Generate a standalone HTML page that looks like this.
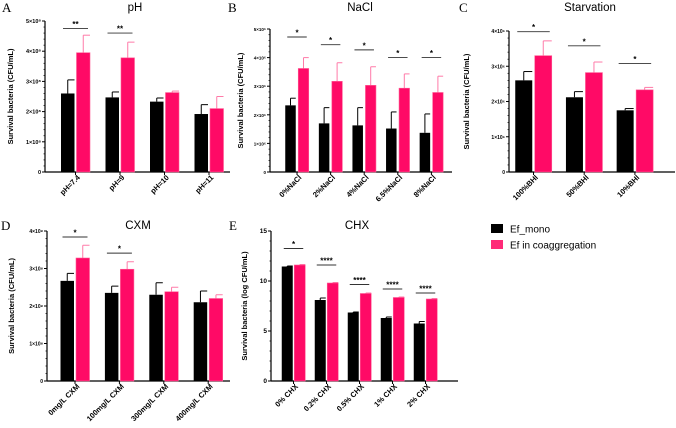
<!DOCTYPE html>
<html><head><meta charset="utf-8"><style>
html,body{margin:0;padding:0;background:#fff;width:676px;height:428px;overflow:hidden}
svg{display:block;font-family:"Liberation Sans",sans-serif}
</style></head><body>
<svg id="fig" width="676" height="428" viewBox="0 0 676 428"></svg>
<script>
// Panel A: pH
const catsA = ["pH=7.4","pH=9","pH=10","pH=11"];
const monoA = [2.6,2.47,2.33,1.92];
const monoErrA = [3.05,2.65,2.45,2.23];
const coA = [3.95,3.78,2.63,2.1];
const coErrA = [4.53,4.3,2.68,2.5];
const sigA = ["**","**","",""];
const sigYA = [4.75,4.6,0,0];
const ticksA = ["0","1×10⁸","2×10⁸","3×10⁸","4×10⁸","5×10⁸"];
// Panel B: NaCl
const catsB = ["0%NaCl","2%NaCl","4%NaCl","6.5%NaCl","8%NaCl"];
const monoB = [2.33,1.7,1.63,1.52,1.37];
const monoErrB = [2.58,2.25,2.25,2.1,2.03];
const coB = [3.62,3.17,3.03,2.93,2.78];
const coErrB = [4.0,3.82,3.68,3.43,3.35];
const sigB = ["*","*","*","*","*"];
const sigYB = [4.72,4.45,4.27,4.0,4.0];
const ticksB = ["0","1×10⁶","2×10⁶","3×10⁶","4×10⁶","5×10⁶"];
// Panel C: Starvation
const catsC = ["100%BHI","50%BHI","10%BHI"];
const monoC = [2.6,2.12,1.75];
const monoErrC = [2.85,2.28,1.8];
const coC = [3.3,2.82,2.33];
const coErrC = [3.72,3.12,2.4];
const sigC = ["*","*","*"];
const sigYC = [3.98,3.58,3.08];
const ticksC = ["0","1×10⁶","2×10⁶","3×10⁶","4×10⁶"];
// Panel D: CXM
const catsD = ["0mg/L CXM","100mg/L CXM","300mg/L CXM","400mg/L CXM"];
const monoD = [2.67,2.35,2.3,2.1];
const monoErrD = [2.87,2.53,2.62,2.4];
const coD = [3.28,2.98,2.38,2.2];
const coErrD = [3.62,3.18,2.5,2.3];
const sigD = ["*","*","",""];
const sigYD = [3.84,3.41,0,0];
const ticksD = ["0","1×10⁸","2×10⁸","3×10⁸","4×10⁸"];
// Panel E: CHX
const catsE = ["0% CHX","0.2% CHX","0.5% CHX","1% CHX","2% CHX"];
const monoE = [11.45,8.1,6.85,6.3,5.75];
const monoErrE = [11.5,8.3,6.9,6.4,5.95];
const coE = [11.6,9.8,8.75,8.35,8.2];
const coErrE = [11.65,9.85,8.8,8.4,8.25];
const sigE = ["*","****","****","****","****"];
const sigYE = [13.25,11.6,9.65,9.2,8.8];
const ticksE = ["0","5","10","15"];
const tickValsE = [0,5,10,15];

const NS="http://www.w3.org/2000/svg";
const svg=document.getElementById('fig');
const PINK="#ff0a66", PINKERR="#ff7aa8";
function mk(tag,attrs,parent){const e=document.createElementNS(NS,tag);for(const k in attrs)e.setAttribute(k,attrs[k]);(parent||svg).appendChild(e);return e;}

function panel(o){
  const g=mk('g',{});
  
  
  const y=v=>o.y0-(v/o.ymax)*(o.y0-o.ytop);
  const cx=i=>o.x1+o.spacing*i;
  // axes
  const ya=mk('line',{x1:o.ax,y1:o.ytop,x2:o.ax,y2:o.y0,stroke:'#000','stroke-width':1.2},g);
  
  
  const xa=mk('line',{x1:o.ax,y1:o.y0,x2:o.axEnd,y2:o.y0,stroke:'#000','stroke-width':1.2},g);
  
  
  // ticks
  o.ticks.forEach((t,i)=>{
    const v=o.tickVals?o.tickVals[i]:i;
    const ty=y(v);
    mk('line',{x1:o.ax-3,y1:ty,x2:o.ax,y2:ty,stroke:'#000','stroke-width':1},g);
    const tl=mk('text',{x:o.ax-4,y:ty+2,'font-size':o.tfs||5.5,'text-anchor':'end','font-weight':'bold'},g);
    tl.textContent=t;
    
    
    if(i<o.ticks.length-1){
      const nv=o.tickVals?o.tickVals[i+1]:i+1;
      for(let k=1;k<5;k++){const my=y(v+(nv-v)*k/5);mk('line',{x1:o.ax-1.5,y1:my,x2:o.ax,y2:my,stroke:'#000','stroke-width':0.7},g);}
    }
  });
  // bars
  o.cats.forEach((c,i)=>{
    const c0=cx(i);
    const bx=c0-o.gap/2-o.bw, px=c0+o.gap/2;
    // error bars
    const e1=mk('line',{x1:bx+o.bw/2,y1:y(o.mono[i]),x2:bx+o.bw/2,y2:y(o.monoErr[i]),stroke:'#000','stroke-width':1},g);
    mk('line',{x1:bx+o.bw/2,y1:y(o.monoErr[i]),x2:bx+o.bw,y2:y(o.monoErr[i]),stroke:'#000','stroke-width':1},g);
    mk('line',{x1:px+o.bw/2,y1:y(o.co[i]),x2:px+o.bw/2,y2:y(o.coErr[i]),stroke:PINKERR,'stroke-width':1},g);
    mk('line',{x1:px+o.bw/2,y1:y(o.coErr[i]),x2:px+o.bw,y2:y(o.coErr[i]),stroke:PINKERR,'stroke-width':1},g);
    const b=mk('rect',{x:bx,y:y(o.mono[i]),width:o.bw,height:o.y0-y(o.mono[i]),fill:'#000'},g);
    
    
    const p=mk('rect',{x:px,y:y(o.co[i]),width:o.bw,height:o.y0-y(o.co[i]),fill:PINK,stroke:'#ff5c95','stroke-width':0.6},g);
    
    
    mk('line',{x1:c0,y1:o.y0,x2:c0,y2:o.y0+3,stroke:'#000','stroke-width':1},g);
    // label
    const lx=c0+5, ly=o.y0+6;
    const t=mk('text',{x:lx,y:ly,'font-size':o.lfs||7.5,'font-weight':'bold','text-anchor':'end',transform:`rotate(-45 ${lx} ${ly})`},g);
    t.textContent=c;
    
    
    // significance
    if(o.sig[i]){
      const sy=y(o.sigY[i]);
      mk('line',{x1:bx+2,y1:sy,x2:px+o.bw-2,y2:sy,stroke:'#333','stroke-width':0.9},g);
      const s=mk('text',{x:c0,y:sy-1.5,'font-size':8,'font-weight':'bold','text-anchor':'middle'},g);
      s.textContent=o.sig[i];
      
      
    }
  });
  const tt=mk('text',{x:o.titleX,y:o.titleY,'font-size':11.5,'text-anchor':'middle'},g);
  tt.textContent=o.title;
  
  
  const lt=mk('text',{x:o.letterX,y:o.titleY+1,'font-size':13,'font-family':'Liberation Serif, serif'},g);
  lt.textContent=o.letter;
  
  
  const ym=(o.ytop+o.y0)/2, yx=o.ylabX;
  const yl=mk('text',{x:yx,y:ym,'font-size':7.5,'font-weight':'bold','text-anchor':'middle',transform:`rotate(-90 ${yx} ${ym})`},g);
  yl.textContent=o.ylabel;
  
  
}
const YL="Survival bacteria (CFU/mL)";
panel({name:'panel-ph',title:'pH',letter:'A',titleX:135,titleY:11,letterX:2,cats:catsA,mono:monoA,monoErr:monoErrA,co:coA,coErr:coErrA,sig:sigA,sigY:sigYA,ticks:ticksA,ymax:5,ytop:21,y0:172,ax:45,axEnd:230,x1:75.5,spacing:44.5,bw:13.5,gap:2,ylabX:13,ylabel:YL});
panel({name:'panel-nacl',title:'NaCl',letter:'B',titleX:360,titleY:11,letterX:228,cats:catsB,mono:monoB,monoErr:monoErrB,co:coB,coErr:coErrB,sig:sigB,sigY:sigYB,ticks:ticksB,ymax:5,ytop:29,y0:172,ax:270,axEnd:452,x1:297,spacing:33.6,bw:10.5,gap:2.5,ylabX:243,ylabel:YL,tfs:4.5});
panel({name:'panel-starvation',title:'Starvation',letter:'C',titleX:590,titleY:11,letterX:459,cats:catsC,mono:monoC,monoErr:monoErrC,co:coC,coErr:coErrC,sig:sigC,sigY:sigYC,ticks:ticksC,ymax:4,ytop:31,y0:172,ax:509,axEnd:675,x1:533.5,spacing:50.7,bw:17,gap:2.5,ylabX:469,ylabel:YL,tfs:5});
panel({name:'panel-cxm',title:'CXM',letter:'D',titleX:138,titleY:229,letterX:1,cats:catsD,mono:monoD,monoErr:monoErrD,co:coD,coErr:coErrD,sig:sigD,sigY:sigYD,ticks:ticksD,ymax:4,ytop:231,y0:381,ax:47,axEnd:230,x1:75,spacing:44.4,bw:13.5,gap:2,ylabX:14,ylabel:YL,tfs:5});
panel({name:'panel-chx',title:'CHX',letter:'E',titleX:357,titleY:229,letterX:229,cats:catsE,mono:monoE,monoErr:monoErrE,co:coE,coErr:coErrE,sig:sigE,sigY:sigYE,ticks:ticksE,tickVals:tickValsE,ymax:15,ytop:231,y0:381,ax:271,axEnd:458,x1:293.5,spacing:33,bw:11,gap:1.5,ylabX:247,ylabel:'Survival bacteria (log CFU/mL)',tfs:6.5});
// legend
const lg=mk('g',{});


const l1=mk('rect',{x:491,y:224,width:12,height:9,fill:'#000'},lg);


const t1=mk('text',{x:510,y:232.5,'font-size':10},lg);t1.textContent='Ef_mono';


const l2=mk('rect',{x:491,y:240,width:12,height:9,fill:'#ff2a78'},lg);


const t2=mk('text',{x:510,y:248.5,'font-size':10},lg);t2.textContent='Ef in coaggregation';


</script>
</body></html>
